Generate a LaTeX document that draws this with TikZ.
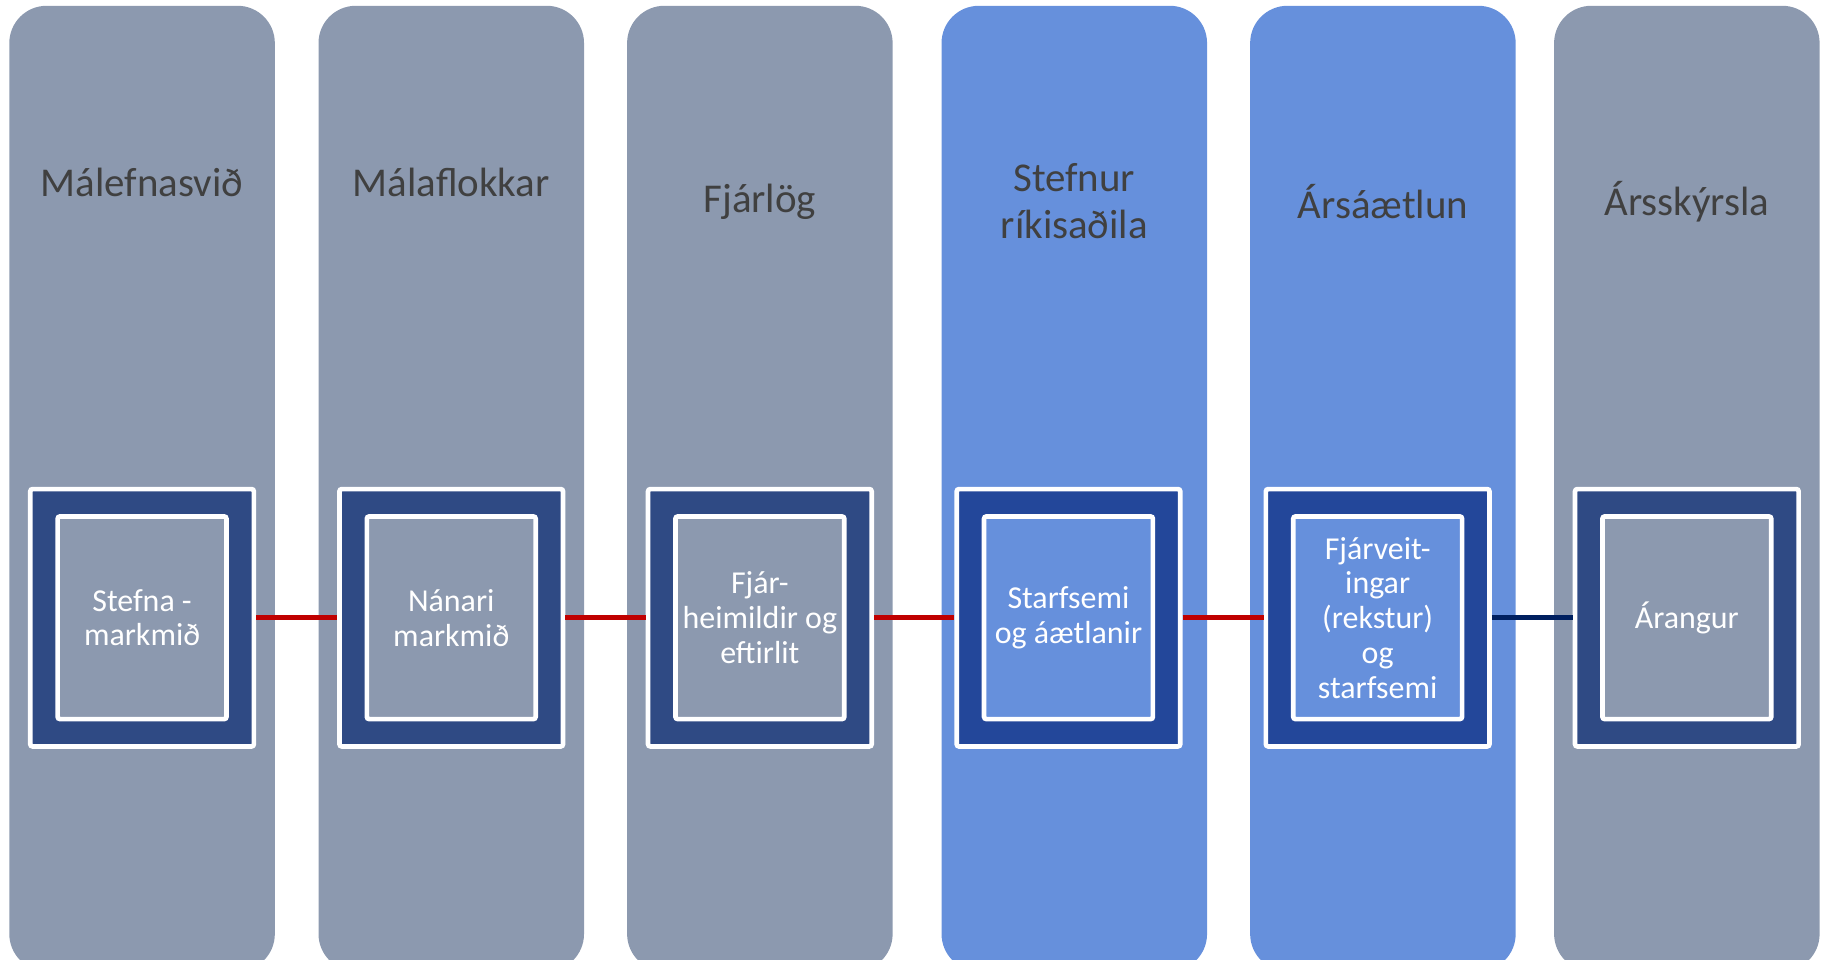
\documentclass[tikz,border=0pt]{standalone}
\usepackage{fontspec}
\setmainfont{Carlito}
\usetikzlibrary{positioning}
\definecolor{lanegray}{RGB}{140,153,175}
\definecolor{laneblue}{RGB}{102,144,220}
\definecolor{framegray}{RGB}{47,74,132}
\definecolor{frameblue}{RGB}{35,71,154}
\definecolor{headtext}{RGB}{64,64,64}
\definecolor{linkred}{RGB}{192,0,0}
\definecolor{linknavy}{RGB}{0,32,96}
\tikzset{
    lane/.style={
        draw=none,
        rounded corners=0.32cm,
        minimum width=2.28cm,
        minimum height=8.29cm,
        inner sep=0,
    },
    lane head/.style={
        text=headtext,
        font=\fontsize{10}{11.4}\selectfont,
        align=center,
        inner sep=0,
    },
    outer frame/.style={
        draw=white,
        line width=0.04cm,
        rounded corners=0.02cm,
        minimum width=1.92cm,
        minimum height=2.21cm,
        inner sep=0,
    },
    inner frame/.style={
        draw=white,
        line width=0.04cm,
        rounded corners=0.02cm,
        minimum width=1.45cm,
        minimum height=1.74cm,
        inner sep=0,
        text=white,
        font=\fontsize{7.8}{8.5}\selectfont,
        align=center,
    },
    link/.style={
        line width=0.04cm,
    },
}

\begin{document}
\begin{tikzpicture}

    \useasboundingbox (0, 0) rectangle (15.68, 8.24);
    \clip (0, 0) rectangle (15.68, 8.24);

    % lanes, headings and the framed boxes
    \foreach \i/\xc/\bx/\hy/\lc/\fc/\head/\body in {
        1/1.22/1.22/6.67/lanegray/framegray/{Málefnasvið}/{Stefna -\\markmið},
        2/3.875/3.875/6.67/lanegray/framegray/{Málaflokkar}/{Nánari\\markmið},
        3/6.525/6.525/6.51/lanegray/framegray/{Fjárlög}/{Fjár-\\heimildir og\\eftirlit},
        4/9.225/9.175/6.51/laneblue/frameblue/{Stefnur\\ríkisaðila}/{Starfsemi\\og áætlanir},
        5/11.875/11.83/6.51/laneblue/frameblue/{Ársáætlun}/{Fjárveit-\\ingar\\(rekstur)\\og\\starfsemi},
        6/14.485/14.485/6.51/lanegray/framegray/{Ársskýrsla}/{Árangur}}
    {
        \node[lane, fill=\lc] (lane\i) at (\xc, 4.045) {};
        \node[lane head] (head\i) at (\xc, \hy) {\head};
        \node[outer frame, fill=\fc] (box\i) at (\bx, 2.935) {};
        \node[inner frame, fill=\lc] (goal\i) at (box\i) {\body};
    }

    \foreach \a/\b/\c in {1/2/linkred, 2/3/linkred, 3/4/linkred, 4/5/linkred, 5/6/linknavy}
    {
        \draw[link, \c] (box\a.east) -- (box\b.west);
    }

\end{tikzpicture}
\end{document}
